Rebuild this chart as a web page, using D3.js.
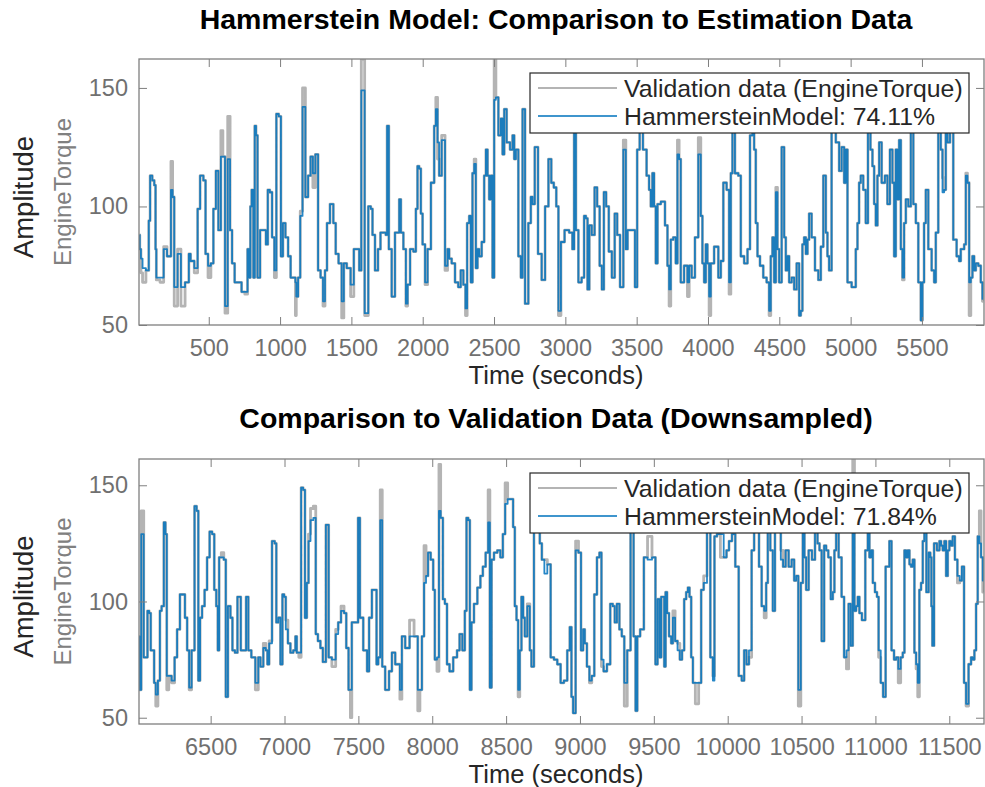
<!DOCTYPE html>
<html><head><meta charset="utf-8">
<script src="https://cdn.jsdelivr.net/npm/d3@7"></script>
<style>
body{margin:0;background:#fff;}
svg{display:block;font-family:"Liberation Sans",Arial,Helvetica,sans-serif;}
</style>
</head><body>
<svg id="chart" width="985" height="787"></svg>
<script>
// ---------- DATA ----------
const titles = ["Hammerstein Model: Comparison to Estimation Data", "Comparison to Validation Data (Downsampled)"];
const xLabel = "Time (seconds)";
const yLabel = "Amplitude";
const channel = "EngineTorque";
const legendMeasured = "Validation data (EngineTorque)";
const legendModel = ["HammersteinModel: 74.11%", "HammersteinModel: 71.84%"];
const estTicks = [500,1000,1500,2000,2500,3000,3500,4000,4500,5000,5500];
const valTicks = [6500,7000,7500,8000,8500,9000,9500,10000,10500,11000,11500];
const yTicks = [50,100,150];

const estTime = [14,19,30,42,77,82,96,112,124,130,
135,182,186,229,241,252,264,299,311,357,
364,381,416,428,451,474,481,509,521,544,
556,579,591,607,621,645,654,673,690,720,
740,766,778,790,794,808,818,827,836,848,
872,895,907,921,935,953,967,981,1000,1012,
1028,1047,1066,1082,1105,1110,1117,1136,1147,1168,
1187,1206,1222,1238,1257,1276,1292,1310,1320,1338,
1362,1385,1395,1425,1439,1455,1480,1509,1525,1550,
1560,1579,1607,1630,1642,1654,1677,1696,1712,1735,
1747,1754,1771,1794,1817,1830,1841,1853,1876,1888,
1900,1923,1946,1958,1969,1981,1993,2005,2028,2040,
2075,2086,2098,2110,2121,2145,2168,2180,2191,2215,
2238,2260,2273,2297,2303,2320,2332,2343,2355,2367,
2378,2390,2402,2425,2437,2449,2460,2472,2484,2495,
2507,2519,2542,2554,2566,2577,2600,2624,2636,2647,
2659,2682,2694,2706,2729,2752,2764,2776,2795,2822,
2846,2870,2893,2910,2928,2945,2958,2980,3009,3044,
3055,3068,3080,3103,3125,3138,3150,3161,3175,3195,
3215,3231,3250,3262,3278,3294,3315,3337,3355,3372,
3395,3418,3430,3442,3481,3495,3512,3530,3558,3581,
3593,3605,3616,3628,3640,3652,3687,3710,3722,3733,
3745,3768,3780,3792,3803,3815,3850,3862,3874,3897,
3920,3944,3955,3967,3979,3990,4002,4014,4025,4061,
4084,4096,4119,4142,4154,4166,4177,4201,4224,4236,
4271,4283,4306,4318,4329,4341,4353,4376,4399,4423,
4434,4446,4458,4470,4481,4493,4505,4528,4540,4551,
4563,4575,4598,4610,4633,4645,4656,4668,4680,4692,
4703,4715,4738,4762,4785,4797,4820,4832,4843,4855,
4878,4914,4925,4949,4960,4972,4984,5030,5042,5054,
5065,5077,5100,5112,5131,5147,5159,5171,5182,5194,
5206,5229,5252,5264,5287,5299,5311,5322,5334,5346,
5358,5369,5381,5393,5416,5428,5451,5463,5486,5498,
5509,5521,5533,5556,5580,5591,5603,5626,5638,5650,
5661,5673,5685,5708,5731,5755,5766,5778,5790,5802,
5813,5825,5837,5848,5860,5872,5883,5907,5918,5930];

const estModel = [88,82,78,74,73,94,113,111,109,82,
70,70,82,79,107,104,66,80,66,68,
80,77,74,99,113,111,80,75,76,99,
115,90,121,121,58,120,90,76,68,68,
64,64,82,70,100,107,70,134,130,70,
90,90,84,107,106,87,73,139,138,79,
93,87,79,70,70,68,62,70,96,142,
104,113,121,114,122,73,70,60,73,93,
101,93,80,76,60,76,74,67,82,82,
73,149,55,100,99,88,73,82,89,89,
88,134,82,62,89,89,103,89,82,59,
67,82,81,99,117,116,97,84,68,82,
110,134,141,127,113,128,75,82,78,76,
68,66,73,67,57,93,96,68,114,118,
74,82,79,85,113,124,113,103,113,70,
145,146,130,137,122,141,127,124,130,120,
124,79,70,141,59,93,104,101,125,80,
69,100,120,110,108,100,56,85,90,89,
82,131,90,68,70,96,95,65,92,88,
108,100,75,65,106,100,81,70,97,88,
66,124,82,90,90,66,124,145,124,113,
107,100,114,100,76,101,102,92,75,65,
86,87,76,122,120,68,75,68,75,70,
87,122,96,76,68,84,76,62,76,83,
70,77,110,107,68,114,150,114,113,79,
76,82,130,150,124,93,79,75,70,68,
56,79,87,68,106,82,68,125,87,73,
79,68,70,65,76,54,56,84,87,80,
86,97,87,73,69,83,113,89,79,73,
155,127,115,125,110,124,68,66,82,93,
110,113,107,93,140,124,117,101,92,113,
127,110,113,101,124,110,79,124,103,128,
82,70,93,103,100,140,101,93,68,52,
68,93,107,82,73,68,89,135,124,106,
107,135,127,133,86,79,77,82,82,84,
113,110,68,70,79,73,76,75,68,61];

const estMeasured = [88,82,72,68,73,94,113,111,109,82,
69,68,83,79,119,104,58,82,58,68,
80,77,72,99,113,111,80,70,76,99,
115,90,132,121,55,138,90,76,68,68,
64,63,82,70,100,107,70,134,130,70,
90,90,84,107,106,87,70,139,138,79,
93,87,79,70,70,54,62,70,98,150,
104,113,121,108,122,73,70,58,73,93,
101,93,80,76,53,76,74,62,82,82,
73,162,54,100,99,88,73,82,89,89,
88,134,82,62,89,89,103,89,82,58,
67,82,81,99,117,116,97,84,67,82,
110,134,146,120,113,130,73,82,78,76,
68,66,73,67,54,93,96,68,114,120,
74,82,79,85,113,124,113,103,113,70,
162,146,130,137,122,141,127,124,130,120,
124,79,70,141,59,93,104,101,125,80,
69,100,120,110,108,100,54,85,90,89,
82,131,90,68,70,96,95,65,92,88,
108,100,75,65,106,100,81,70,97,88,
66,128,82,90,90,66,124,145,124,113,
107,100,114,100,76,101,102,92,75,58,
86,87,76,128,120,68,75,62,75,70,
87,129,96,76,68,84,76,54,76,83,
70,77,110,107,63,114,150,114,113,79,
76,82,130,150,124,93,79,75,70,68,
54,79,87,68,108,82,68,125,87,73,
79,68,70,65,76,54,56,84,87,80,
86,97,87,73,69,83,113,89,79,73,
155,127,115,125,110,124,68,66,82,93,
110,113,107,93,140,124,117,101,92,113,
127,110,113,101,124,110,79,124,103,128,
82,69,93,103,100,140,101,93,68,52,
68,93,107,82,73,68,89,135,124,112,
107,135,127,133,86,79,77,82,82,84,
114,110,54,70,79,73,76,75,68,60];

const valTime = [6017,6021,6039,6055,6067,6078,6089,6100,6112,6123,
6134,6152,6161,6175,6191,6197,6209,6224,6247,6265,
6281,6303,6319,6333,6349,6360,6382,6400,6410,6423,
6434,6450,6468,6484,6502,6518,6531,6545,6552,6563,
6581,6597,6608,6626,6642,6653,6676,6687,6698,6710,
6732,6748,6762,6789,6816,6829,6845,6868,6879,6890,
6902,6929,6938,6951,6965,6980,6992,7003,7014,7032,
7048,7071,7077,7089,7105,7120,7132,7145,7157,7168,
7184,7206,7217,7235,7251,7268,7292,7306,7335,7358,
7369,7396,7410,7426,7441,7451,7460,7491,7505,7516,
7550,7568,7577,7606,7617,7629,7640,7656,7667,7696,
7719,7735,7764,7775,7787,7802,7832,7861,7893,7911,
7922,7938,7951,7965,7978,8001,8012,8023,8041,8050,
8064,8080,8091,8109,8125,8159,8177,8193,8215,8226,
8238,8249,8260,8271,8294,8317,8335,8350,8373,8384,
8396,8407,8429,8452,8470,8486,8501,8520,8542,8553,
8565,8576,8587,8598,8610,8621,8632,8655,8666,8677,
8700,8722,8734,8750,8768,8790,8813,8835,8858,8880,
8903,8925,8937,8948,8959,8982,8998,9016,9027,9038,
9056,9072,9088,9106,9124,9140,9151,9169,9196,9214,
9230,9241,9259,9275,9291,9309,9331,9354,9372,9381,
9395,9420,9445,9470,9505,9517,9533,9544,9556,9567,
9574,9585,9594,9612,9623,9635,9653,9668,9684,9698,
9713,9725,9736,9747,9759,9770,9792,9815,9826,9849,
9871,9894,9905,9916,9939,9962,9984,10000,10018,10040,
10063,10086,10104,10119,10135,10153,10171,10187,10203,10221,
10239,10255,10266,10277,10300,10311,10329,10352,10367,10383,
10401,10424,10442,10458,10469,10487,10503,10514,10525,10537,
10559,10582,10600,10616,10627,10645,10661,10672,10690,10706,
10717,10728,10740,10762,10780,10796,10812,10825,10841,10852,
10864,10875,10886,10897,10920,10943,10954,10965,10977,10988,
11006,11015,11028,11044,11060,11078,11089,11100,11118,11134,
11146,11163,11179,11191,11202,11213,11225,11236,11247,11258,
11270,11281,11292,11303,11315,11326,11337,11353,11367,11376,
11382,11389,11405,11428,11439,11450,11461,11473,11484,11495,
11506,11518,11529,11547,11563,11579,11592,11608,11619,11642,
11653,11664,11676,11687,11698,11709,11721,11732];

const valModel = [85,62,129,76,76,96,95,79,79,65,
60,66,96,98,134,129,68,68,66,76,
88,103,103,93,79,63,79,141,139,66,
93,98,105,119,130,129,105,98,79,119,
119,118,59,98,93,79,78,102,102,79,
79,102,79,76,65,76,72,80,79,73,
82,126,125,91,93,73,103,102,88,82,
78,79,85,78,78,149,148,93,108,126,
135,136,86,83,80,74,133,76,75,86,
91,96,95,80,62,62,91,91,136,93,
79,70,93,105,105,73,76,135,72,62,
70,78,73,73,62,85,80,85,85,62,
62,85,108,111,121,118,105,75,76,139,
136,101,99,73,70,76,79,86,79,96,
136,135,62,91,99,106,111,115,121,134,
63,118,121,122,119,129,142,144,144,132,
98,92,62,79,102,93,85,98,79,72,
140,145,125,118,112,116,76,75,73,65,
66,79,89,59,52,122,121,79,88,82,
72,66,68,103,119,121,75,70,73,99,
98,91,99,88,85,65,79,135,85,53,
85,88,119,118,119,73,101,76,102,102,
72,104,95,85,82,93,83,79,75,79,
101,104,106,102,76,65,65,65,105,108,
135,76,66,128,129,129,119,122,126,129,
115,68,66,79,73,79,122,135,135,115,
98,96,108,135,122,96,135,135,118,115,
122,115,118,109,111,62,108,135,119,105,
122,118,135,125,122,83,124,122,119,101,
104,122,135,119,102,76,79,99,81,140,
96,98,102,95,92,122,135,119,122,108,
104,102,79,65,59,115,115,126,79,75,
76,71,76,78,122,119,122,116,115,118,
78,73,65,105,108,126,135,104,121,119,
98,81,125,122,126,124,122,126,111,122,
126,124,128,118,111,109,115,65,56,73,
76,75,79,99,128,125,119,109];

const valMeasured = [85,62,139,76,76,96,95,79,79,65,
55,66,96,98,134,129,62,68,65,76,
88,103,103,93,79,62,79,141,139,66,
93,98,105,119,130,129,105,98,79,119,
121,118,59,98,93,79,78,102,102,79,
79,102,79,76,62,76,72,82,79,73,
83,126,125,91,93,73,103,102,92,82,
78,79,85,78,76,149,148,93,108,129,
140,141,86,83,80,74,133,76,72,88,
91,98,95,80,62,50,91,91,136,93,
79,70,93,105,105,73,76,148,72,62,
70,78,73,73,58,85,80,92,85,53,
62,85,124,111,121,118,105,75,70,159,
136,101,99,73,70,76,79,86,79,96,
136,135,62,91,99,106,111,115,121,148,
63,118,121,122,119,129,151,144,144,132,
98,92,59,79,102,93,85,99,79,72,
140,145,125,118,118,116,76,75,73,65,
66,79,89,59,52,126,121,79,88,82,
72,65,68,103,119,121,72,70,73,99,
98,91,99,88,85,55,79,135,85,53,
85,88,119,128,119,73,101,76,102,102,
72,104,95,85,82,96,83,82,75,79,
101,104,106,102,76,65,56,65,105,111,
135,76,68,128,129,119,119,122,126,129,
115,68,66,79,73,76,122,135,135,115,
98,93,108,135,122,96,135,135,122,115,
122,115,118,109,111,55,108,135,119,105,
122,118,135,125,122,83,124,122,119,101,
104,122,135,119,102,76,71,99,81,162,
96,98,102,95,92,122,135,119,122,108,
104,102,76,65,59,115,115,126,79,75,
76,65,76,78,122,119,122,116,115,118,
78,71,59,105,108,126,135,104,121,119,
98,81,125,122,126,124,122,126,111,122,
126,124,128,118,108,109,115,65,55,73,
76,75,79,99,128,139,119,104];

// ---------- LAYOUT ----------
const FONT = '"Liberation Sans",Arial,Helvetica,sans-serif';
const GRAY_TXT = "#707070", AXIS = "#7f7f7f", DARK = "#262626";
const MEAS_COLOR = "#b4b4b4", MODEL_COLOR = "#0072bd";
const left = 139, right = 984;

const panels = [
  {title: titles[0], time: estTime, meas: estMeasured, model: estModel,
   xDomain: [11, 5935], yDomain: [50, 162.2], ticks: estTicks,
   top: 59, bottom: 325, titleY: 29, fit: legendModel[0]},
  {title: titles[1], time: valTime, meas: valMeasured, model: valModel,
   xDomain: [6015, 11735], yDomain: [47.3, 161.3], ticks: valTicks,
   top: 459, bottom: 724, titleY: 428, fit: legendModel[1]}
];

const svg = d3.select("#chart");
svg.append("rect").attr("width", 985).attr("height", 787).attr("fill", "#fff");

panels.forEach((p, i) => {
  const x = d3.scaleLinear().domain(p.xDomain).range([left, right]);
  const y = d3.scaleLinear().domain(p.yDomain).range([p.bottom, p.top]);
  const g = svg.append("g");

  const clipId = "clip" + i;
  svg.append("clipPath").attr("id", clipId).append("rect")
    .attr("x", left).attr("y", p.top).attr("width", right - left).attr("height", p.bottom - p.top);

  const line = d3.line().x((d, k) => x(p.time[k])).y(d => y(d)).curve(d3.curveStep);
  const lines = g.append("g").attr("clip-path", `url(#${clipId})`);
  lines.append("path").datum(p.meas).attr("d", line)
    .attr("fill", "none").attr("stroke", MEAS_COLOR).attr("stroke-width", 2.8)
    .attr("stroke-linejoin", "round");
  lines.append("path").datum(p.model).attr("d", line)
    .attr("fill", "none").attr("stroke", MODEL_COLOR).attr("stroke-width", 1.8)
    .attr("stroke-linejoin", "round").attr("opacity", 0.85);

  // axes
  const xb = g.append("g").attr("transform", `translate(0,${p.bottom})`)
    .call(d3.axisBottom(x).tickValues(p.ticks).tickSizeInner(-8).tickSizeOuter(0).tickPadding(14.5).tickFormat(d3.format("d")));
  const xt = g.append("g").attr("transform", `translate(0,${p.top})`)
    .call(d3.axisTop(x).tickValues(p.ticks).tickSizeInner(-8).tickSizeOuter(0).tickFormat(""));
  const yl = g.append("g").attr("transform", `translate(${left},0)`)
    .call(d3.axisLeft(y).tickValues(yTicks).tickSizeInner(-8).tickSizeOuter(0).tickPadding(11));
  const yr = g.append("g").attr("transform", `translate(${right},0)`)
    .call(d3.axisRight(y).tickValues(yTicks).tickSizeInner(-8).tickSizeOuter(0).tickFormat(""));
  [xb, xt, yl, yr].forEach(a => {
    a.select(".domain").remove();
    a.selectAll("line").attr("stroke", AXIS).attr("stroke-width", 1);
    a.selectAll("text").attr("fill", GRAY_TXT).style("font-family", FONT).style("font-size", "23.5px");
  });
  g.append("rect").attr("x", left).attr("y", p.top).attr("width", right - left).attr("height", p.bottom - p.top)
    .attr("fill", "none").attr("stroke", AXIS).attr("stroke-width", 1.3);

  // title
  g.append("text").attr("x", 556).attr("y", p.titleY).attr("text-anchor", "middle")
    .style("font-family", FONT).style("font-size", "28.5px").style("font-weight", "bold")
    .attr("fill", "#000").text(p.title);
  // x label
  g.append("text").attr("x", 556).attr("y", p.bottom + 59).attr("text-anchor", "middle")
    .style("font-family", FONT).style("font-size", "25.5px").attr("fill", DARK).text(xLabel);
  // y labels
  const cy = (p.top + p.bottom) / 2;
  g.append("text").attr("transform", `translate(33,${cy + 5}) rotate(-90)`).attr("text-anchor", "middle")
    .style("font-family", FONT).style("font-size", "27.5px").attr("fill", DARK).text(yLabel);
  g.append("text").attr("transform", `translate(71,${cy}) rotate(-90)`).attr("text-anchor", "middle")
    .style("font-family", FONT).style("font-size", "24px").attr("fill", "#808080").text(channel);

  // legend
  const lg = g.append("g").attr("transform", `translate(530,${p.top + 14})`);
  lg.append("rect").attr("x", 0).attr("y", 0).attr("width", 439).attr("height", 60)
    .attr("fill", "#fff").attr("stroke", DARK).attr("stroke-width", 1.2);
  const items = [{label: legendMeasured, color: MEAS_COLOR, w: 2.2, o: 1}, {label: p.fit, color: MODEL_COLOR, w: 1.8, o: 0.75}];
  items.forEach((it, k) => {
    const ly = 15 + k * 28;
    lg.append("line").attr("x1", 8).attr("x2", 87).attr("y1", ly).attr("y2", ly)
      .attr("stroke", it.color).attr("stroke-width", it.w).attr("opacity", it.o);
    lg.append("text").attr("x", 94).attr("y", ly + 8.5)
      .style("font-family", FONT).style("font-size", "24.8px").attr("fill", DARK).text(it.label);
  });
});
</script>
</body></html>
